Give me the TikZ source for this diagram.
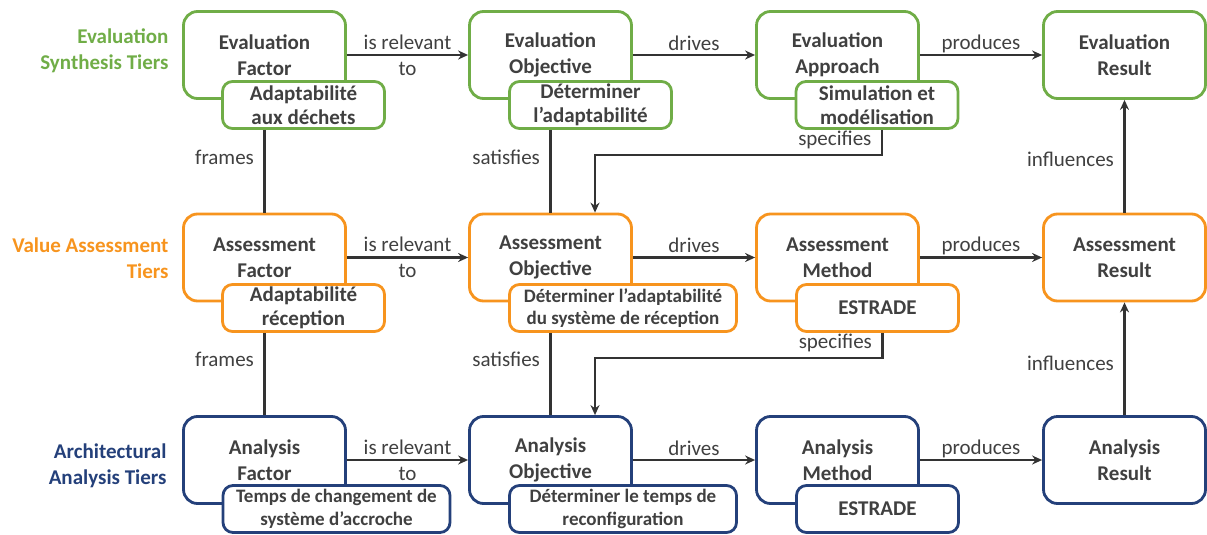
\documentclass[tikz,border=0pt]{standalone}
\usepackage{fontspec}
\setmainfont{Carlito}
\usetikzlibrary{arrows.meta,calc}
\definecolor{grn}{RGB}{112,173,71}
\definecolor{org}{RGB}{247,148,30}
\definecolor{blu}{RGB}{36,64,122}
\definecolor{txt}{RGB}{64,64,64}
\definecolor{lin}{RGB}{51,51,51}
\begin{document}
\begin{tikzpicture}[x=1pt,y=-1pt,
  mainbox/.style={draw=#1, line width=2.8pt, rounded corners=14pt, fill=white,
    minimum width=162pt, minimum height=87pt, align=center,
    font=\fontsize{21}{26}\selectfont\bfseries, text=txt, inner sep=0pt},
  subbox/.style={draw=#1, line width=2.8pt, rounded corners=10pt, fill=white,
    minimum width=162pt, minimum height=47pt, align=center,
    font=\fontsize{21}{24.5}\selectfont\bfseries, text=txt, inner sep=0pt},
  widebox/.style={subbox=#1, minimum width=227pt, font=\fontsize{19}{22.5}\selectfont\bfseries},
  conn/.style={draw=lin, line width=2.5pt},
  arr/.style={conn, -{Stealth[length=10pt,width=9pt]}},
  lbl/.style={font=\fontsize{21}{26}\selectfont, text=txt, align=center},
  vlbl/.style={lbl, left, xshift=-6pt},
  tier/.style={font=\fontsize{21}{26}\selectfont\bfseries, align=right, anchor=east}
]
\useasboundingbox (0,0) rectangle (1207,535);

% tier labels
\node[tier, text=grn] (tierE) at (172,51) {Evaluation\\Synthesis Tiers};
\node[tier, text=org] (tierV) at (172,258) {Value Assessment\\Tiers};
\node[tier, text=blu] (tierA) at (170,466) {Architectural\\Analysis Tiers};

% main boxes
\node[mainbox=grn] (ef) at (264.5,55) {Evaluation\\Factor};
\node[mainbox=grn] (eo) at (550.5,55) {Evaluation\\Objective};
\node[mainbox=grn] (ea) at (837.5,55) {Evaluation\\Approach};
\node[mainbox=grn] (er) at (1124.5,55) {Evaluation\\Result};

\node[mainbox=org] (af) at (264.5,257.5) {Assessment\\Factor};
\node[mainbox=org] (ao) at (550.5,257.5) {Assessment\\Objective};
\node[mainbox=org] (am) at (837.5,257.5) {Assessment\\Method};
\node[mainbox=org] (ar) at (1124.5,257.5) {Assessment\\Result};

\node[mainbox=blu] (nf) at (264.5,460) {Analysis\\Factor};
\node[mainbox=blu] (no) at (550.5,460) {Analysis\\Objective};
\node[mainbox=blu] (nm) at (837.5,460) {Analysis\\Method};
\node[mainbox=blu] (nr) at (1124.5,460) {Analysis\\Result};

% sub boxes
\node[subbox=grn] (efs) at (303.5,105) {Adaptabilité\\aux déchets};
\node[subbox=grn] (eos) at (590.5,105) {Déterminer\\l’adaptabilité};
\node[subbox=grn] (eas) at (877,105) {Simulation et\\modélisation};

\node[subbox=org] (afs) at (303.5,308) {Adaptabilité\\réception};
\node[widebox=org] (aos) at (623,308) {Déterminer l’adaptabilité\\du système de réception};
\node[subbox=org] (ams) at (877.5,308) {ESTRADE};

\node[widebox=blu] (nfs) at (336.5,509) {Temps de changement de\\système d’accroche};
\node[widebox=blu] (nos) at (623,509) {Déterminer le temps de\\reconfiguration};
\node[subbox=blu] (nms) at (877.5,509) {ESTRADE};

% horizontal connectors
\draw[arr] (ef) -- node[lbl]{is relevant\\to} (eo);
\draw[arr] (eo) -- node[lbl, above]{drives} (ea);
\draw[arr] (ea) -- node[lbl, above, inner sep=1pt]{produces} (er);

\draw[arr] (af) -- node[lbl]{is relevant\\to} (ao);
\draw[arr] (ao) -- node[lbl, above]{drives} (am);
\draw[arr] (am) -- node[lbl, above, inner sep=1pt]{produces} (ar);

\draw[arr] (nf) -- node[lbl]{is relevant\\to} (no);
\draw[arr] (no) -- node[lbl, above]{drives} (nm);
\draw[arr] (nm) -- node[lbl, above, inner sep=1pt]{produces} (nr);

% vertical connectors
\draw[conn] (efs.south -| ef.south) -- node[vlbl, pos=0.33]{frames} (af.north);
\draw[conn] (eos.south -| eo.south) -- node[vlbl, pos=0.33]{satisfies} (ao.north);
\draw[arr] ([xshift=5pt]eas.south) -- node[vlbl, pos=0.4]{specifies} ++(0,25) -| ([xshift=44.5pt]ao.north);

\draw[conn] (afs.south -| af.south) -- node[vlbl, pos=0.32]{frames} (nf.north);
\draw[conn] (aos.south -| ao.south) -- node[vlbl, pos=0.32]{satisfies} (no.north);
\draw[arr] ([xshift=5pt]ams.south) -- node[vlbl, pos=0.4]{specifies} ++(0,25) -| ([xshift=44.5pt]no.north);

\draw[arr] (ar.north) -- node[vlbl, pos=0.47]{influences} (er.south);
\draw[arr] (nr.north) -- node[vlbl, pos=0.46]{influences} (ar.south);
\end{tikzpicture}
\end{document}
